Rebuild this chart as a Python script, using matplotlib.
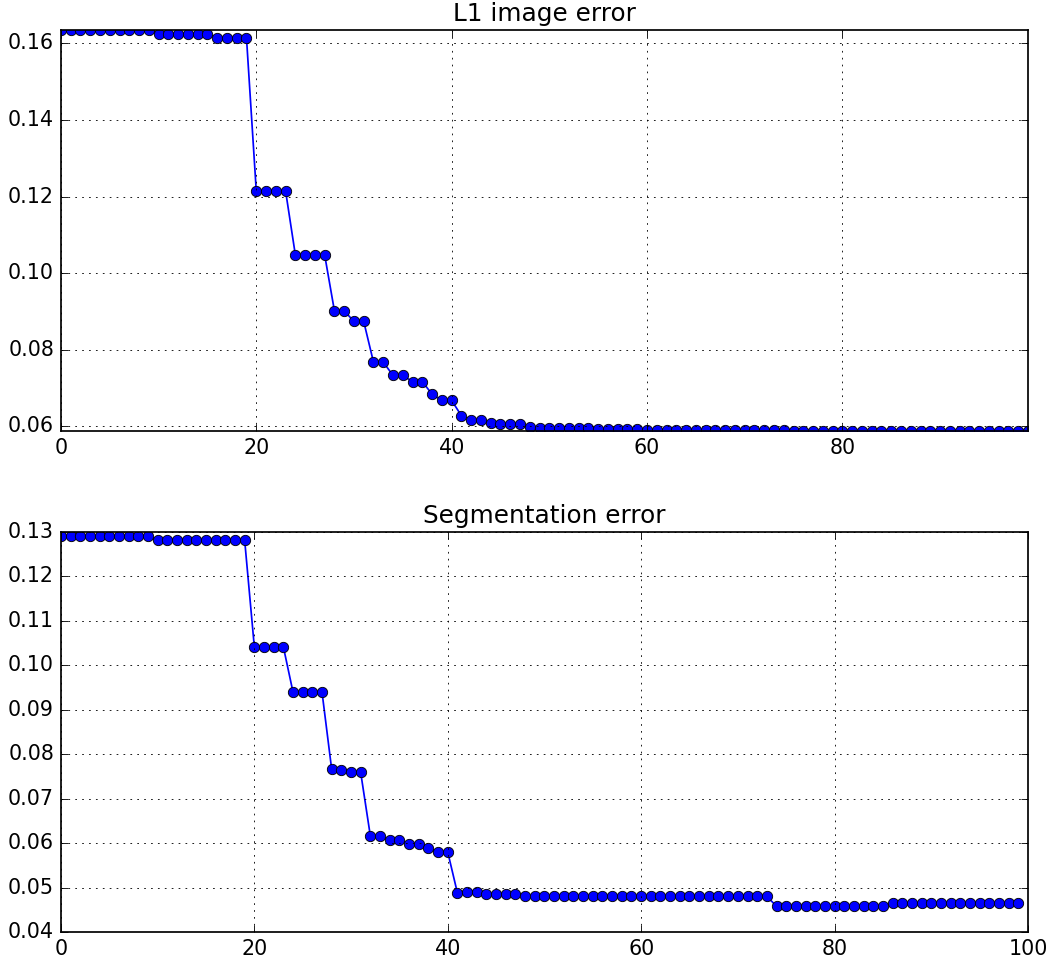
import numpy as np
import matplotlib
matplotlib.use("Agg")
import matplotlib.pyplot as plt

plt.style.use("classic")

# L1 image error per iteration
l1_error = [
    0.1635, 0.1635, 0.1635, 0.1635, 0.1635, 0.1635, 0.1635, 0.1635, 0.1635, 0.1635,
    0.1625, 0.1625, 0.1625, 0.1625, 0.1625, 0.1625, 0.1614, 0.1614, 0.1614, 0.1614,
    0.1215, 0.1215, 0.1215, 0.1215, 0.1048, 0.1048, 0.1048, 0.1048, 0.0902, 0.0902,
    0.0874, 0.0874, 0.0768, 0.0768, 0.0733, 0.0733, 0.0717, 0.0717, 0.0684, 0.0668,
    0.0668, 0.0628, 0.0618, 0.0617, 0.0609, 0.0605, 0.0605, 0.0605, 0.0598, 0.0596,
    0.0596, 0.0596, 0.0596, 0.0596, 0.0596, 0.0593, 0.0593, 0.0593, 0.0593, 0.0593,
    0.0590, 0.0590, 0.0590, 0.0590, 0.0590, 0.0590, 0.0590, 0.0590, 0.0590, 0.0590,
    0.0590, 0.0590, 0.0590, 0.0590, 0.0590, 0.0588, 0.0588, 0.0588, 0.0588, 0.0588,
    0.0588, 0.0588, 0.0588, 0.0588, 0.0588, 0.0588, 0.0588, 0.0588, 0.0588, 0.0588,
    0.0588, 0.0588, 0.0588, 0.0588, 0.0588, 0.0588, 0.0588, 0.0588, 0.0588, 0.0588,
]

# Segmentation error per iteration
seg_error = [
    0.1291, 0.1291, 0.1290, 0.1290, 0.1290, 0.1290, 0.1290, 0.1290, 0.1290, 0.1290,
    0.1282, 0.1282, 0.1282, 0.1282, 0.1282, 0.1282, 0.1282, 0.1282, 0.1282, 0.1282,
    0.1042, 0.1042, 0.1042, 0.1042, 0.0940, 0.0940, 0.0940, 0.0940, 0.0766, 0.0765,
    0.0759, 0.0759, 0.0616, 0.0616, 0.0607, 0.0607, 0.0597, 0.0597, 0.0588, 0.0580,
    0.0580, 0.0488, 0.0491, 0.0491, 0.0486, 0.0486, 0.0486, 0.0486, 0.0480, 0.0480,
    0.0480, 0.0480, 0.0480, 0.0480, 0.0480, 0.0480, 0.0480, 0.0480, 0.0480, 0.0480,
    0.0480, 0.0480, 0.0480, 0.0480, 0.0480, 0.0480, 0.0480, 0.0480, 0.0480, 0.0480,
    0.0480, 0.0480, 0.0480, 0.0480, 0.0458, 0.0458, 0.0458, 0.0458, 0.0458, 0.0458,
    0.0458, 0.0458, 0.0458, 0.0458, 0.0458, 0.0458, 0.0465, 0.0465, 0.0465, 0.0465,
    0.0465, 0.0465, 0.0465, 0.0465, 0.0465, 0.0465, 0.0465, 0.0465, 0.0465, 0.0465,
]

# the original looks like it was rendered at a bigger dpi
dpi = 124
fig = plt.figure(figsize=(1050 / dpi, 961 / dpi), dpi=dpi, facecolor="white")

# top plot
ax1 = fig.add_axes([0.058, 0.5515, 0.921, 0.4173])
ax1.plot(l1_error, "b-o")
ax1.set_title("L1 image error")
ax1.set_xlim(0, len(l1_error) - 1)
ax1.set_ylim(min(l1_error), max(l1_error))
ax1.set_yticks(np.arange(0.06, 0.161, 0.02))
ax1.set_xticks([0, 20, 40, 60, 80])
ax1.grid(True)

# bottom plot
ax2 = fig.add_axes([0.058, 0.0302, 0.921, 0.4162])
ax2.plot(seg_error, "b-o")
ax2.set_title("Segmentation error")
ax2.set_xlim(0, 100)
ax2.set_ylim(0.04, 0.13)
ax2.set_yticks(np.arange(0.04, 0.131, 0.01))
ax2.grid(True)

for ax in (ax1, ax2):
    ax.yaxis.set_major_formatter(matplotlib.ticker.FormatStrFormatter("%.2f"))

fig.savefig("out.png", dpi=dpi, facecolor="white")
